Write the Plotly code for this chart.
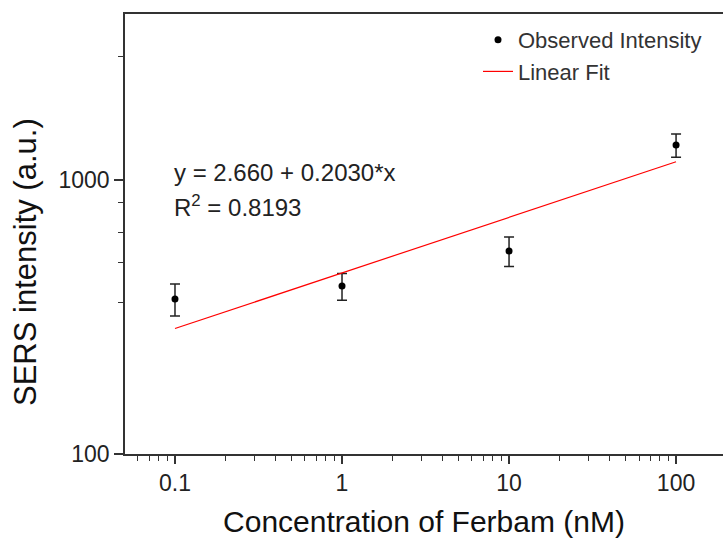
import math
import plotly.graph_objects as go

# Data
concentration = [0.1, 1, 10, 100]
intensity = [368, 410, 551, 1342]
intensity_err = [49, 46, 68, 130]

fit_x = [0.1, 100]
fit_y = [287, 1166]

x_tickvals = [0.1, 1, 10, 100]
x_ticktext = ["0.1", "1", "10", "100"]
y_tickvals = [100, 1000]
y_ticktext = ["100", "1000"]
x_minor = [m * 10 ** e for e in range(-2, 3) for m in range(2, 10)]
y_minor = [357, 499, 646, 826, 2820]

FONT = "Arial, Liberation Sans, sans-serif"
AX = "#333333"
TXT = "#222222"

PL, PT, PW, PH = 125, 14, 598, 440


def px(x):
    return (x - PL) / PW


def py(y):
    return 1 - (y - PT) / PH


fig = go.Figure()
fig.add_trace(go.Scatter(
    x=concentration, y=intensity, mode="markers", name="Observed Intensity",
    marker=dict(color="black", size=7),
    error_y=dict(type="data", array=intensity_err, color="#222222", thickness=1.5, width=5),
))
fig.add_trace(go.Scatter(
    x=fit_x, y=fit_y, mode="lines", name="Linear Fit",
    line=dict(color="red", width=1.2),
))

fig.add_annotation(
    xref="paper", yref="paper", x=px(172), y=py(172),
    xanchor="left", yanchor="middle", showarrow=False,
    text="y = 2.660 + 0.2030*x", font=dict(family=FONT, size=24, color=TXT),
)
fig.add_annotation(
    xref="paper", yref="paper", x=px(172), y=py(206),
    xanchor="left", yanchor="middle", showarrow=False,
    text="R<sup>2</sup> = 0.8193", font=dict(family=FONT, size=24, color=TXT),
)
# y-axis title (sits lower than the axis centre in the reference)
fig.add_annotation(
    xref="paper", yref="paper", x=px(25), y=py(262),
    xanchor="center", yanchor="middle", showarrow=False, textangle=-90,
    text="SERS intensity (a.u.)", font=dict(family=FONT, size=31, color="#111111"),
)

fig.update_layout(
    width=723, height=542,
    margin=dict(l=PL, r=0, t=PT, b=542 - PT - PH),
    paper_bgcolor="white", plot_bgcolor="white",
    font=dict(family=FONT, color=TXT),
    showlegend=True,
    legend=dict(
        x=px(478), y=py(19), xanchor="left", yanchor="top",
        bgcolor="rgba(0,0,0,0)", font=dict(family=FONT, size=22, color="#333333"),
        tracegroupgap=0,
    ),
    xaxis=dict(
        type="log", range=[math.log10(0.0502), math.log10(191)],
        tickvals=x_tickvals, ticktext=x_ticktext,
        ticks="outside", ticklen=8, tickwidth=1.5, tickcolor=AX,
        minor=dict(tickvals=x_minor, ticks="outside", ticklen=5, tickwidth=1, tickcolor=AX),
        showline=True, linecolor=AX, linewidth=1.5, mirror=True,
        showgrid=False, zeroline=False,
        tickfont=dict(family=FONT, size=23, color=TXT),
        title=dict(text="Concentration of Ferbam (nM)", font=dict(family=FONT, size=30, color="#111111"), standoff=16),
    ),
    yaxis=dict(
        type="log", range=[2, 3.606],
        tickvals=y_tickvals, ticktext=y_ticktext,
        ticks="outside", ticklen=9, tickwidth=1.5, tickcolor=AX,
        minor=dict(tickvals=y_minor, ticks="outside", ticklen=5, tickwidth=1, tickcolor=AX),
        showline=True, linecolor=AX, linewidth=1.5, mirror=False,
        showgrid=False, zeroline=False,
        tickfont=dict(family=FONT, size=23, color=TXT),
    ),
)

fig.write_html(
    "out.html",
    config={"displayModeBar": False},
    post_script="document.body.style.margin='0';document.body.style.overflow='hidden';",
)
